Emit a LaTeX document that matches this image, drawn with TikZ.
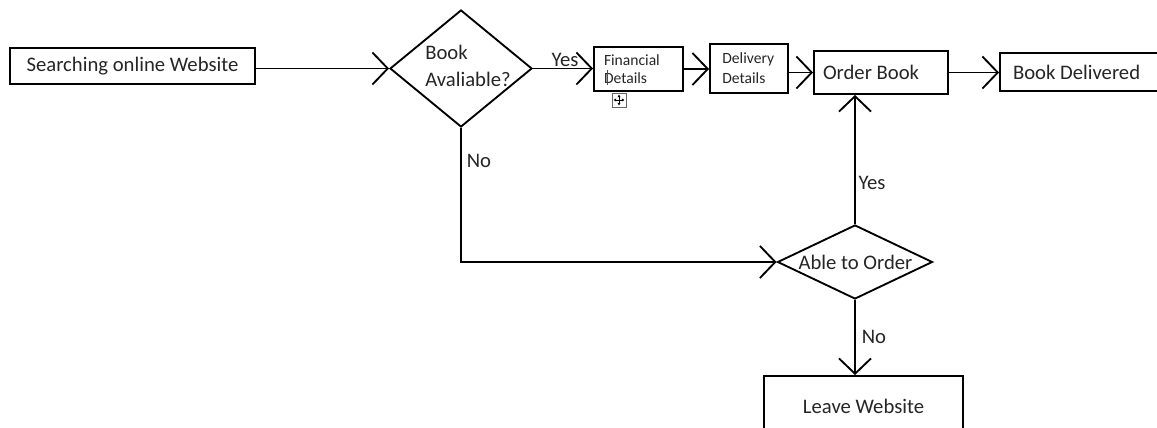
\documentclass[tikz,border=0pt]{standalone}
\usepackage{fontspec}
\setmainfont{Carlito}
\usetikzlibrary{arrows.meta,shapes.geometric}
\begin{document}
\begin{tikzpicture}[x=0.75pt,y=-0.75pt,
 line width=1.4pt,
 box/.style={draw, line width=1.4pt, inner sep=0pt, font=\fontsize{15.5}{19}\selectfont, text=black!85},
 small/.style={font=\fontsize{11.7}{13.5}\selectfont},
 dia/.style={draw, diamond, inner sep=0pt, line width=1.4pt},
 lbl/.style={font=\fontsize{15.5}{19}\selectfont, text=black!85, inner sep=0pt},
 arr/.style={-{Straight Barb[length=11.5pt,width=24pt,line width=1.4pt]}, line width=1.4pt},
]
\clip (0,0) rectangle (1157,428);
\fill[white] (0,0) rectangle (1157,428);

\node[box, minimum width=183.75pt, minimum height=27pt] (s) at (132.5,66) {Searching online Website};

\node[dia, minimum width=106.5pt, minimum height=87.75pt] (q1) at (461,68.5) {};
\node[lbl, align=flush left, font=\fontsize{15.5}{20.25}\selectfont] (q1t) at (468,66) {Book\\Avaliable?};

\node[box, small, inner xsep=7.5pt, text width=51.75pt, minimum height=33pt, align=flush left] (fin) at (638.5,69) {Financial\\Details};

\node[box, small, font=\fontsize{11.7}{15}\selectfont, inner xsep=9.25pt, text width=40pt, minimum height=36.75pt, align=flush left] (del) at (749,68.5) {Delivery\\Details};

\node[box, inner xsep=6.75pt, text width=87pt, minimum height=32.25pt, align=flush left] (ord) at (881,72.5) {Order Book};

\node[box, inner xsep=9.75pt, text width=108pt, minimum height=28.5pt, align=flush left] (bd) at (1085,72) {Book Delivered};

\node[dia, minimum width=116.25pt, minimum height=55.5pt] (able) at (855,262) {};
\node[lbl] (ablet) at (855.5,262) {Able to Order};

\node[box, minimum width=149.25pt, minimum height=45pt] (leave) at (863.5,406) {Leave Website};

% connectors
\draw[arr] (s.east |- q1.west) -- (q1.west);
\draw[arr] (q1.east) -- (fin.west |- q1.east);
\draw[arr] (fin.east) -- (del.west |- fin.east);
\draw[arr] (del.east |- ord.west) -- (ord.west);
\draw[arr] (ord.east) -- (bd.west |- ord.east);
\draw[arr] (able.north) -- (able.north |- ord.south);
\draw[arr] (q1.south) -- (q1.south |- able.west) -- (able.west);
\draw[arr] (able.south) -- (able.south |- leave.north);

% labels
\node[lbl] (yes1) at (565,60) {Yes};
\node[lbl] (no1) at (479,161) {No};
\node[lbl] (yes2) at (872,183) {Yes};
\node[lbl] (no2) at (874,337) {No};

% editor artefacts: cursor and move handle
\draw[line width=0.6pt, black!70] (607,70) -- (607,85);
\draw[line width=0.6pt, black!60, fill=white] (612,93) rectangle (626,107);
\draw[line width=0.6pt, black, {Latex[length=2pt,width=2.5pt]}-{Latex[length=2pt,width=2.5pt]}] (613.5,100) -- (624.5,100);
\draw[line width=0.6pt, black, {Latex[length=2pt,width=2.5pt]}-{Latex[length=2pt,width=2.5pt]}] (619,94.5) -- (619,105.5);
\end{tikzpicture}
\end{document}
